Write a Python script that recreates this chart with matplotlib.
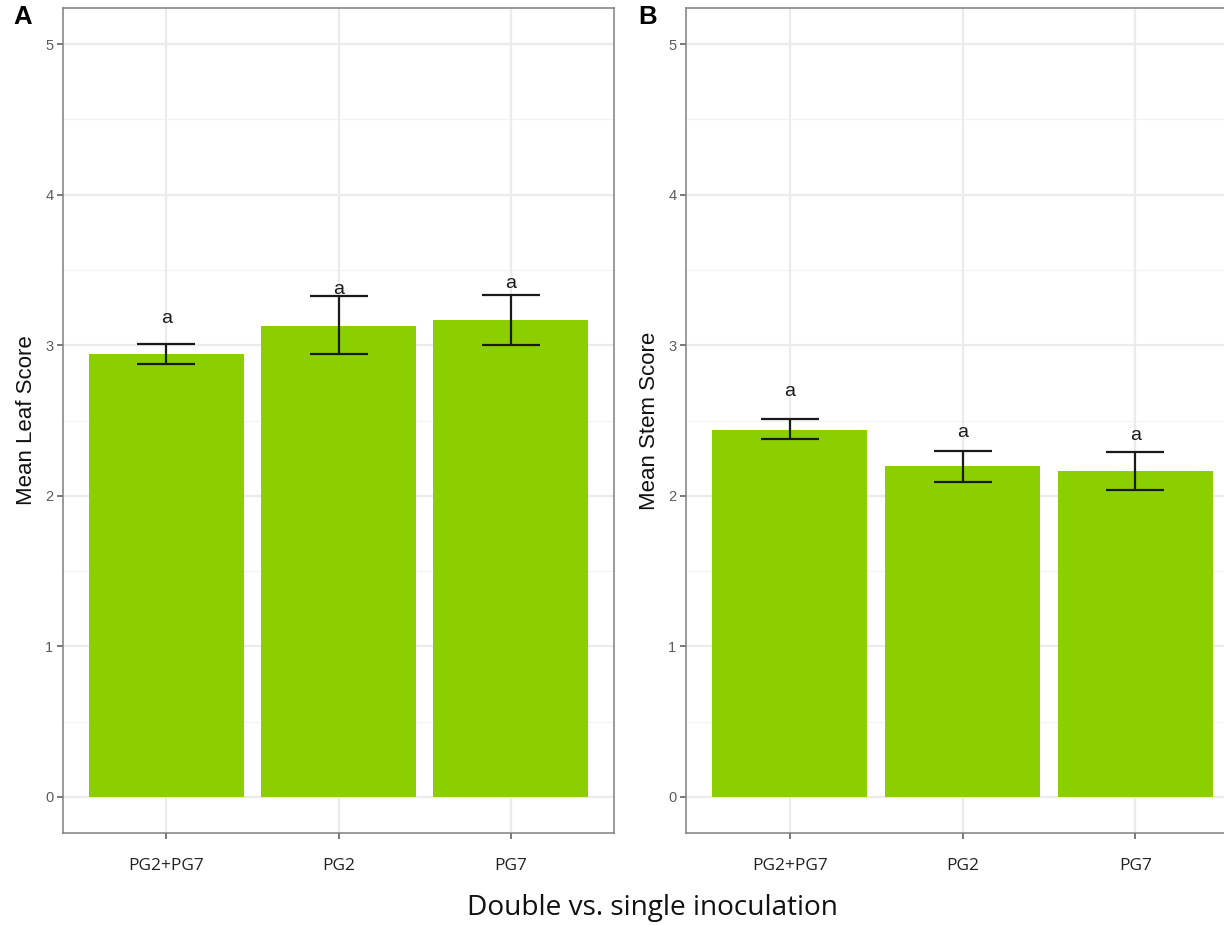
import matplotlib
matplotlib.use("Agg")
import matplotlib.pyplot as plt
import numpy as np

categories = ["PG2+PG7", "PG2", "PG7"]

leaf_mean = [2.94, 3.13, 3.17]
leaf_low = [2.875, 2.94, 3.00]
leaf_high = [3.01, 3.33, 3.335]
leaf_letters = ["a", "a", "a"]
leaf_letter_y = [3.18, 3.37, 3.41]

stem_mean = [2.44, 2.20, 2.165]
stem_low = [2.38, 2.09, 2.04]
stem_high = [2.51, 2.30, 2.29]
stem_letters = ["a", "a", "a"]
stem_letter_y = [2.69, 2.42, 2.40]

yticks = [0, 1, 2, 3, 4, 5]

BAR = "#8BCF00"
GRID = "#EBEBEB"
FRAME = "#7F7F7F"

fig = plt.figure(figsize=(12.24, 9.25), dpi=100)

def panel(rect, means, lows, highs, letters, letter_y, ylabel, tag, tagx):
    ax = fig.add_axes(rect)
    x = np.arange(1, len(categories) + 1)
    ax.set_xlim(0.4, 3.6)
    ax.set_ylim(-0.24, 5.24)
    # grid
    for v in np.arange(0.5, 5.01, 1.0):
        ax.axhline(v, color="#F3F3F3", lw=0.9, zorder=0)
    for v in yticks:
        ax.axhline(v, color=GRID, lw=1.6, zorder=0)
    for v in x:
        ax.axvline(v, color=GRID, lw=1.6, zorder=0)
    ax.bar(x, means, width=0.9, color=BAR, zorder=2)
    m = np.array(means)
    yerr = np.vstack([m - np.array(lows), np.array(highs) - m])
    ax.errorbar(x, means, yerr=yerr, fmt="none", ecolor="#1A1A1A",
                elinewidth=1.6, capsize=21, capthick=1.6, zorder=3)
    for xi, t, yy in zip(x, letters, letter_y):
        ax.text(xi, yy, t, ha="center", va="center", fontsize=14,
                family="Liberation Sans", color="#1A1A1A", zorder=4)
    ax.set_xticks(x)
    ax.set_xticklabels(categories, family="Open Sans", fontsize=12.5, color="#222222")
    ax.set_yticks(yticks)
    ax.set_yticklabels([str(v) for v in yticks], family="Liberation Sans",
                       fontsize=10.5, color="#5A5A5A")
    ax.tick_params(axis="both", length=4, width=1.1, color="#555555")
    ax.tick_params(axis="x", pad=14)
    ax.tick_params(axis="y", pad=3)
    for s in ax.spines.values():
        s.set_color(FRAME)
        s.set_linewidth(1.1)
    ax.set_ylabel(ylabel, family="Liberation Sans", fontsize=16, color="#111111",
                  labelpad=6)
    fig.text(tagx, 1 - 17 / 925, tag, family="Liberation Sans", fontweight="bold",
             fontsize=18.5, ha="left", va="center")
    return ax

axA = panel([63 / 1224, 1 - 833 / 925, 551 / 1224, 825 / 925], leaf_mean, leaf_low,
            leaf_high, leaf_letters, leaf_letter_y, "Mean Leaf Score", "A", 13 / 1224)
axB = panel([686 / 1224, 1 - 833 / 925, 553 / 1224, 825 / 925], stem_mean, stem_low,
            stem_high, stem_letters, stem_letter_y, "Mean Stem Score", "B", 638 / 1224)

fig.text(652 / 1224, 1 - 908 / 925, "Double vs. single inoculation", family="Open Sans",
         fontsize=20.2, ha="center", va="center", color="#111111")

fig.savefig("out.png", dpi=100, facecolor="white")
